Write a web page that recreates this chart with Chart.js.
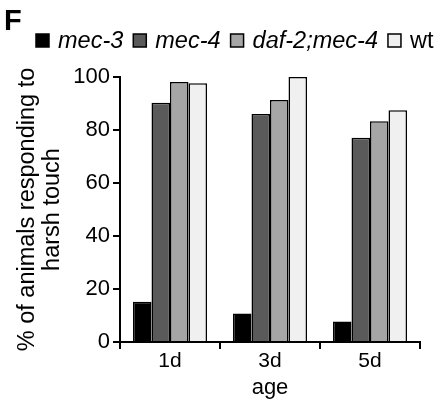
<!DOCTYPE html>
<html>
<head>
<meta charset="utf-8">
<script src="https://cdn.jsdelivr.net/npm/chart.js@4"></script>
<style>
  html, body { margin: 0; padding: 0; background: #fff; }
  #wrap { width: 440px; height: 405px; position: relative; }
</style>
</head>
<body>
<div id="wrap"><canvas id="chart"></canvas></div>
<script>
const AGES = ['1d', '3d', '5d'];
const STRAINS = ['mec-3', 'mec-4', 'daf-2;mec-4', 'wt'];
const MEC3 = [15.2, 10.8, 7.7];
const MEC4 = [90.3, 86, 77.1];
const DAF2_MEC4 = [98.1, 91.3, 83.3];
const WT = [97.6, 100, 87.5];
const Y_TICKS = [0, 20, 40, 60, 80, 100];

const FONT = "'Liberation Sans', Arial, sans-serif";
const COLORS = ['#000000', '#5a5a5a', '#a6a6a6', '#f0f0f0'];

const main = () => {
  const canvas = document.getElementById('chart');

  // legend + panel letter drawn by hand so gene names can be italic
  const legendPlugin = {
    id: 'figLegend',
    afterDraw(chart) {
      const ctx = chart.ctx;
      ctx.save();
      ctx.fillStyle = '#000';
      ctx.font = `bold 29px ${FONT}`;
      ctx.textBaseline = 'alphabetic';
      ctx.fillText('F', 4, 30);

      let x = 36;
      chart.data.datasets.forEach((ds) => {
        ctx.fillStyle = ds.backgroundColor;
        ctx.fillRect(x, 34, 13, 13);
        ctx.strokeStyle = '#000';
        ctx.lineWidth = 1.5;
        ctx.strokeRect(x, 34, 13, 13);
        x += 13 + 9;
        ctx.fillStyle = '#000';
        ctx.font = `${ds.label === 'wt' ? '' : 'italic '}23.5px ${FONT}`;
        ctx.fillText(ds.label, x, 48);
        x += ctx.measureText(ds.label).width + 10;
      });
      ctx.restore();
    }
  };

  const values = [MEC3, MEC4, DAF2_MEC4, WT];
  const data = {
    labels: AGES,
    datasets: STRAINS.map((name, i) => ({
      label: name,
      data: values[i],
      backgroundColor: COLORS[i],
      borderColor: '#000',
      borderWidth: 1.5,
      barPercentage: 1,
      categoryPercentage: 0.74
    }))
  };

  const options = {
    responsive: false,
    animation: false,
    layout: { padding: { top: 77, right: 20, left: 0, bottom: 0 } },
    plugins: {
      legend: { display: false },
      tooltip: { enabled: false }
    },
    scales: {
      x: {
        grid: { drawOnChartArea: false, drawTicks: true, tickLength: 7, color: '#000', lineWidth: 2, offset: true },
        border: { display: true, color: '#000', width: 2 },
        ticks: { color: '#000', font: { family: FONT, size: 21 }, padding: 0 },
        title: { display: true, text: 'age', color: '#000', font: { family: FONT, size: 22 }, padding: { top: 8 } },
        afterFit: (scale) => { scale.height = 63; }
      },
      y: {
        min: 0,
        max: 100,
        afterBuildTicks: (scale) => { scale.ticks = Y_TICKS.map(v => ({ value: v })); },
        grid: { drawOnChartArea: false, drawTicks: true, tickLength: 7, color: '#000', lineWidth: 2 },
        border: { display: true, color: '#000', width: 2 },
        ticks: { color: '#000', font: { family: FONT, size: 22 }, padding: 3 },
        title: {
          display: true,
          text: ['% of animals responding to', 'harsh touch'],
          color: '#000',
          font: { family: FONT, size: 23.5, lineHeight: 1.07 },
          padding: { top: 15, bottom: 4 }
        },
        afterFit: (scale) => { scale.width = 120; }
      }
    }
  };

  canvas.width = 440;
  canvas.height = 405;
  new Chart(canvas, { type: 'bar', data, options, plugins: [legendPlugin] });
};

main();
</script>
</body>
</html>
